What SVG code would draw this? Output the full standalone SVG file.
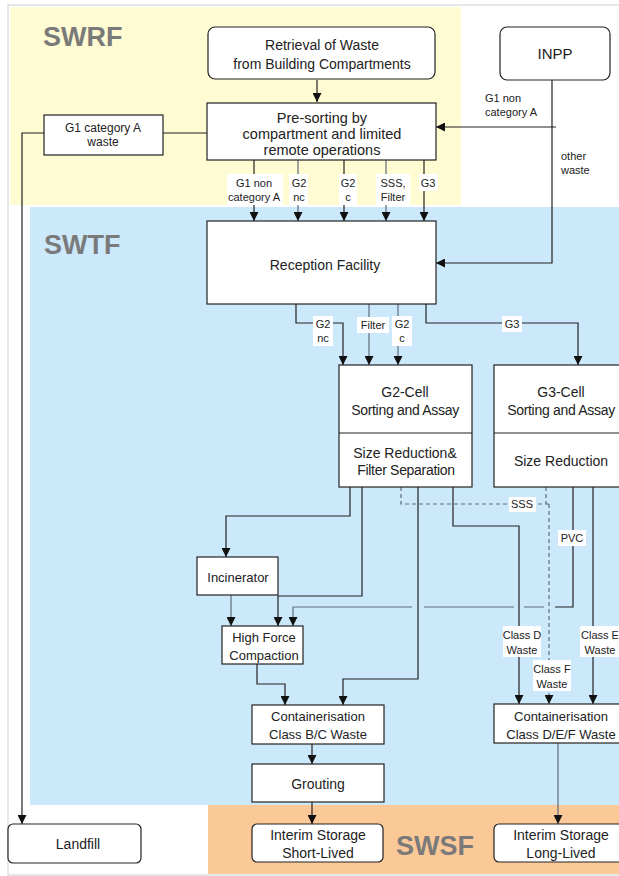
<svg xmlns="http://www.w3.org/2000/svg" width="619" height="876" viewBox="0 0 619 876">
<style>
.zone{stroke:none}
.box{fill:#fff;stroke:#222;stroke-width:1.2}
.t{font-family:"Liberation Sans",Arial,sans-serif;font-size:14px;fill:#222;text-anchor:middle}
.s{font-family:"Liberation Sans",Arial,sans-serif;font-size:11px;fill:#222;text-anchor:middle}
.sl{font-family:"Liberation Sans",Arial,sans-serif;font-size:11px;fill:#222}
.zt{font-family:"Liberation Sans",Arial,sans-serif;font-size:27px;font-weight:bold;fill:#7a7a7a}
.c{fill:none;stroke:#222;stroke-width:1.2}
.g{fill:none;stroke:#5f6d7b;stroke-width:1.2}
.d{fill:none;stroke:#5f6d7b;stroke-width:1.2;stroke-dasharray:4,3}
.lb{fill:#fff;stroke:none}
</style>
<defs>
<marker id="a" viewBox="0 0 10 10" refX="10" refY="5" markerWidth="9" markerHeight="9" markerUnits="userSpaceOnUse" orient="auto">
<path d="M0,0 L10,5 L0,10 z" fill="#111"/>
</marker>
</defs>
<rect x="0" y="0" width="619" height="876" fill="#fff"/>
<rect x="8" y="5" width="620" height="870" fill="none" stroke="#d0d0d0" stroke-width="1"/>
<g id="zones">
<rect class="zone" x="10" y="7" width="451" height="198" fill="#fffbd2"/>
<rect class="zone" x="30" y="207" width="589" height="598" fill="#cce8fb"/>
<rect class="zone" x="208" y="805" width="411" height="69" fill="#fbc897"/>
<text class="zt" x="43" y="46">SWRF</text>
<text class="zt" x="44" y="254">SWTF</text>
<text class="zt" x="396" y="855">SWSF</text>
</g>
<g id="connectors">
<path class="c" d="M317,80 V102" marker-end="url(#a)"/>
<path class="c" d="M207,133 H163"/>
<path class="c" d="M44,133 H22 V824" marker-end="url(#a)"/>
<path class="c" d="M556,127 H436" marker-end="url(#a)"/>
<path class="c" d="M552,80 V263 H436" marker-end="url(#a)"/>
<path class="c" d="M254,160 V221" marker-end="url(#a)"/>
<path class="g" d="M298,160 V221" marker-end="url(#a)"/>
<path class="c" d="M344,160 V221" marker-end="url(#a)"/>
<path class="g" d="M386,160 V221" marker-end="url(#a)"/>
<path class="c" d="M424,160 V221" marker-end="url(#a)"/>
<path class="c" d="M296,304 V323 H343 V365" marker-end="url(#a)"/>
<path class="g" d="M369,304 V365" marker-end="url(#a)"/>
<path class="g" d="M398,304 V365" marker-end="url(#a)"/>
<path class="c" d="M426,304 V323 H578 V365" marker-end="url(#a)"/>
<path class="c" d="M350,487 V516 H226 V557" marker-end="url(#a)"/>
<path class="c" d="M362,487 V596 H278 V626" marker-end="url(#a)"/>
<path class="g" d="M231,595 V626" marker-end="url(#a)"/>
<path class="c" d="M573,487 V607 H555"/>
<path class="g" d="M544,607 H524 M514,607 H424 M412,607 H293 V626" marker-end="url(#a)"/>
<path class="c" d="M418,487 V679 H343 V705" marker-end="url(#a)"/>
<path class="c" d="M257,664 V684 H285 V705" marker-end="url(#a)"/>
<path class="c" d="M453,487 V526 H519 V704" marker-end="url(#a)"/>
<path class="d" d="M401,487 V504 H549"/>
<path class="d" d="M546,487 V504"/>
<path class="d" d="M549,504 V704" marker-end="url(#a)"/>
<path class="c" d="M593,487 V704" marker-end="url(#a)"/>
<path class="c" d="M312,744 V764" marker-end="url(#a)"/>
<path class="c" d="M312,802 V824" marker-end="url(#a)"/>
<path class="g" d="M558,743 V824" marker-end="url(#a)"/>
</g>
<g id="labels">
<text class="sl" x="485" y="102">G1 non</text>
<text class="sl" x="485" y="116">category A</text>
<text class="sl" x="561" y="160">other</text>
<text class="sl" x="561" y="174">waste</text>
<rect class="lb" x="227" y="174" width="56" height="31"/>
<text class="s" x="254" y="187">G1 non</text>
<text class="s" x="254" y="201">category A</text>
<rect class="lb" x="289" y="174" width="19" height="31"/>
<text class="s" x="299" y="187">G2</text>
<text class="s" x="299" y="201">nc</text>
<rect class="lb" x="339" y="174" width="18" height="31"/>
<text class="s" x="348" y="187">G2</text>
<text class="s" x="348" y="201">c</text>
<rect class="lb" x="376" y="174" width="34" height="31"/>
<text class="s" x="393" y="187">SSS,</text>
<text class="s" x="393" y="201">Filter</text>
<rect class="lb" x="419" y="174" width="19" height="17"/>
<text class="s" x="428" y="187">G3</text>
<rect class="lb" x="313" y="316" width="20" height="30"/>
<text class="s" x="323" y="328">G2</text>
<text class="s" x="323" y="342">nc</text>
<rect class="lb" x="357" y="317" width="32" height="16"/>
<text class="s" x="373" y="329">Filter</text>
<rect class="lb" x="392" y="316" width="20" height="30"/>
<text class="s" x="402" y="328">G2</text>
<text class="s" x="402" y="342">c</text>
<rect class="lb" x="502" y="316" width="20" height="16"/>
<text class="s" x="512" y="328">G3</text>
<rect class="lb" x="509" y="497" width="27" height="15"/>
<text class="s" x="522" y="508">SSS</text>
<rect class="lb" x="558" y="530" width="28" height="16"/>
<text class="s" x="572" y="542">PVC</text>
<rect class="lb" x="503" y="626" width="38" height="31"/>
<text class="s" x="522" y="639">Class D</text>
<text class="s" x="522" y="654">Waste</text>
<rect class="lb" x="533" y="660" width="38" height="31"/>
<text class="s" x="552" y="673">Class F</text>
<text class="s" x="552" y="688">Waste</text>
<rect class="lb" x="580" y="626" width="40" height="31"/>
<text class="s" x="600" y="639">Class E</text>
<text class="s" x="600" y="654">Waste</text>
</g>
<g id="retrieval">
<rect class="box" x="208" y="27" width="227" height="52" rx="7"/>
<text class="t" x="322" y="50">Retrieval of Waste</text>
<text class="t" x="322" y="69">from Building Compartments</text>
</g>
<g id="inpp">
<rect class="box" x="500" y="27" width="110" height="53" rx="7"/>
<text class="t" x="555" y="59" style="font-size:15px">INPP</text>
</g>
<g id="presorting">
<rect class="box" x="207" y="103" width="229" height="57"/>
<text class="t" x="322" y="123" style="font-size:14.5px">Pre-sorting by</text>
<text class="t" x="322" y="139" style="font-size:14.5px">compartment and limited</text>
<text class="t" x="322" y="155" style="font-size:14.5px">remote operations</text>
</g>
<g id="g1cata">
<rect class="box" x="44" y="115" width="119" height="40"/>
<text class="s" x="103" y="132" style="font-size:12px">G1 category A</text>
<text class="s" x="103" y="146" style="font-size:12px">waste</text>
</g>
<g id="reception">
<rect class="box" x="207" y="221" width="229" height="83"/>
<text class="t" x="325" y="270">Reception Facility</text>
</g>
<g id="g2cell">
<rect class="box" x="339" y="365" width="133" height="122"/>
<line x1="339" y1="433" x2="472" y2="433" stroke="#222" stroke-width="1.2"/>
<text class="t" x="405" y="397">G2-Cell</text>
<text class="t" x="405" y="415" style="letter-spacing:-0.3px">Sorting and Assay</text>
<text class="t" x="405" y="458">Size Reduction&amp;</text>
<text class="t" x="406" y="475" style="letter-spacing:-0.3px">Filter Separation</text>
</g>
<g id="g3cell">
<rect class="box" x="494" y="365" width="140" height="122"/>
<line x1="494" y1="433" x2="634" y2="433" stroke="#222" stroke-width="1.2"/>
<text class="t" x="561" y="397">G3-Cell</text>
<text class="t" x="561" y="415" style="letter-spacing:-0.3px">Sorting and Assay</text>
<text class="t" x="561" y="466">Size Reduction</text>
</g>
<g id="incinerator">
<rect class="box" x="197" y="557" width="81" height="38"/>
<text class="t" x="238" y="582" style="font-size:13px">Incinerator</text>
</g>
<g id="hfc">
<rect class="box" x="222" y="626" width="81" height="38"/>
<text class="t" x="264" y="642" style="font-size:13px">High Force</text>
<text class="t" x="264" y="660" style="font-size:13px">Compaction</text>
</g>
<g id="contbc">
<rect class="box" x="252" y="705" width="132" height="39"/>
<text class="t" x="318" y="721" style="font-size:13px">Containerisation</text>
<text class="t" x="318" y="739" style="font-size:13px">Class B/C Waste</text>
</g>
<g id="grouting">
<rect class="box" x="252" y="764" width="132" height="38"/>
<text class="t" x="318" y="789">Grouting</text>
</g>
<g id="landfill">
<rect class="box" x="8" y="824" width="133" height="39" rx="5"/>
<text class="t" x="78" y="849">Landfill</text>
</g>
<g id="storageshort">
<rect class="box" x="252" y="824" width="131" height="38" rx="5"/>
<text class="t" x="318" y="840">Interim Storage</text>
<text class="t" x="318" y="858">Short-Lived</text>
</g>
<g id="contdef">
<rect class="box" x="494" y="704" width="140" height="39"/>
<text class="t" x="561" y="721" style="font-size:13px">Containerisation</text>
<text class="t" x="561" y="739" style="font-size:13px">Class D/E/F Waste</text>
</g>
<g id="storagelong">
<rect class="box" x="494" y="824" width="140" height="38" rx="5"/>
<text class="t" x="561" y="840">Interim Storage</text>
<text class="t" x="561" y="858">Long-Lived</text>
</g>
</svg>
